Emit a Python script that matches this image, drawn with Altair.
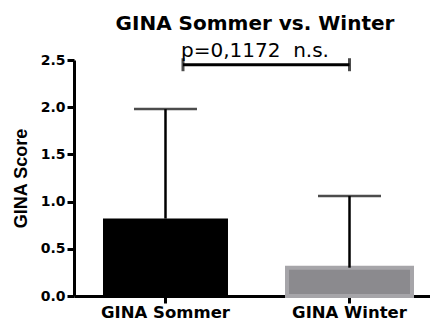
import altair as alt
import pandas as pd

groups = ["GINA Sommer", "GINA Winter"]
means = [0.82, 0.30]
upper = [1.98, 1.06]
bracket_y = [2.45]
bracket_from = ["GINA Sommer"]
bracket_to = ["GINA Winter"]
y_ticks = [0.0, 0.5, 1.0, 1.5, 2.0, 2.5]

FONT = "DejaVu Sans"
FONT2 = "Liberation Sans"

df = pd.DataFrame({"group": groups, "mean": means, "upper": upper})
br = pd.DataFrame({"start": bracket_from, "end": bracket_to, "y": bracket_y})

xscale = alt.Scale(domain=groups, paddingInner=0.3207, paddingOuter=0.1277, align=0.617)
yscale = alt.Scale(domain=[0, 2.5], nice=False, zero=True)

x_enc = alt.X("group:N", scale=xscale, sort=groups,
              axis=alt.Axis(title=None, labelAngle=0, labelFont=FONT, labelFontSize=16.5,
                            labelFontWeight="bold", labelColor="black", labelPadding=1,
                            tickSize=7, tickWidth=3, tickColor="black",
                            domainWidth=3, domainColor="black", grid=False))
y_enc = alt.Y("mean:Q", scale=yscale,
              axis=alt.Axis(title="GINA Score", values=y_ticks, format=".1f",
                            labelFont=FONT, labelFontSize=14, labelFontWeight="bold",
                            labelColor="black", labelPadding=2, tickSize=7, tickWidth=3,
                            tickColor="black", domainWidth=3, domainColor="black",
                            grid=False, titleFont=FONT2, titleFontSize=18,
                            titleFontWeight="bold", titleColor="black", titlePadding=10))

base = alt.Chart(df)

bars = base.mark_bar().encode(
    x=x_enc,
    y=y_enc,
    color=alt.Color("group:N", scale=alt.Scale(domain=groups, range=["#000000", "#8b8a8e"]), legend=None),
    stroke=alt.Stroke("group:N", scale=alt.Scale(domain=groups, range=["#000000", "#a6a5a9"]), legend=None),
    strokeWidth=alt.StrokeWidth("group:N", scale=alt.Scale(domain=groups, range=[0, 4]), legend=None),
)

stems = base.mark_rule(color="black", strokeWidth=2.5).encode(
    x=alt.X("group:N", scale=xscale, sort=groups),
    y=alt.Y("mean:Q", scale=yscale),
    y2="upper:Q",
)

caps = base.mark_tick(color="black", size=63, thickness=2.5).encode(
    x=alt.X("group:N", scale=xscale, sort=groups),
    y=alt.Y("upper:Q", scale=yscale),
)

bchart = alt.Chart(br)
bracket = bchart.mark_rule(color="black", strokeWidth=3, xOffset=17.5).encode(
    x=alt.X("start:N", scale=xscale),
    x2="end:N",
    y=alt.Y("y:Q", scale=yscale),
)
tick_left = bchart.mark_tick(color="black", orient="vertical", size=13, thickness=3, xOffset=17.5).encode(
    x=alt.X("start:N", scale=xscale),
    y=alt.Y("y:Q", scale=yscale),
)
tick_right = bchart.mark_tick(color="black", orient="vertical", size=13, thickness=3).encode(
    x=alt.X("end:N", scale=xscale),
    y=alt.Y("y:Q", scale=yscale),
)

chart = alt.layer(bars, stems, caps, bracket, tick_left, tick_right).properties(
    width=356,
    height=236,
    autosize=alt.AutoSizeParams(type="none"),
    padding={"left": 66, "top": 52, "right": 0, "bottom": 27},
    title=alt.Title(
        text="GINA Sommer vs. Winter",
        subtitle="p=0,1172\u00a0 n.s.",
        font=FONT, fontSize=20, fontWeight="bold", color="black",
        subtitleFont=FONT, subtitleFontSize=20, subtitleFontWeight="normal",
        subtitleColor="black", subtitlePadding=7,
        anchor="middle", dx=3, offset=-8,
    ),
).configure_view(stroke=None)

chart.save("out.html", embed_options={"renderer": "svg", "actions": False})
